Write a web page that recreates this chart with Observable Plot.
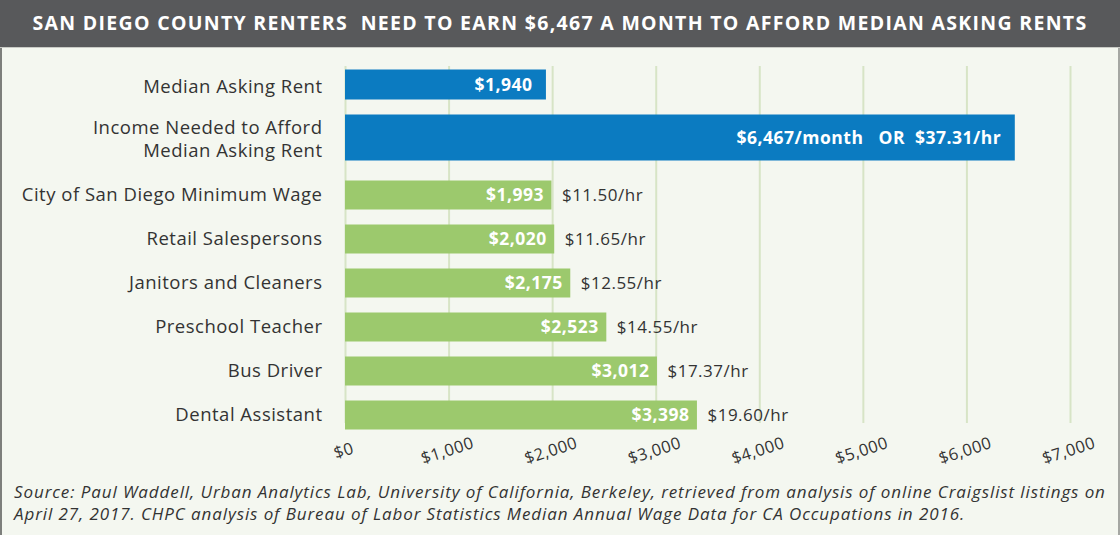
<!DOCTYPE html>
<html>
<head>
<meta charset="utf-8">
<script src="https://cdn.jsdelivr.net/npm/d3@7"></script>
<script src="https://cdn.jsdelivr.net/npm/@observablehq/plot@0.6"></script>
<style>
  html, body { margin: 0; padding: 0; }
  body { width: 1120px; height: 535px; position: relative; overflow: hidden; background: #f4f7f0; font-family: "Open Sans", sans-serif; }
  #title { position: absolute; left: 0; top: 0; width: 1120px; height: 48px; background: #58595b; color: #fff; font-weight: 700; font-size: 19.5px; letter-spacing: 1.3px; line-height: 45px; text-align: center; white-space: pre; border-bottom: 1px solid #c9cbc6; box-sizing: border-box; }
  #frame { position: absolute; left: 0; top: 48px; width: 1120px; height: 487px; box-sizing: border-box; border-left: 2px solid #7d7f7c; border-right: 2px solid #a5a7a3; pointer-events: none; }
  #top, #bottom { position: absolute; left: 0; }
  #top { top: 48px; }
  #bottom { top: 170px; }
  svg { letter-spacing: 0.5px; }
  svg text { white-space: pre; }
  #source { position: absolute; left: 14px; top: 481px; font-style: italic; font-size: 17px; letter-spacing: 0.9px; line-height: 22px; color: #333; white-space: pre; }
</style>
</head>
<body>
<div id="title"></div>
<div id="top"></div>
<div id="bottom"></div>
<div id="source"></div>
<div id="frame"></div>
<script>
const titleText = "SAN DIEGO COUNTY RENTERS  NEED TO EARN $6,467 A MONTH TO AFFORD MEDIAN ASKING RENTS";
const sourceLines = [
  "Source: Paul Waddell, Urban Analytics Lab, University of California, Berkeley, retrieved from analysis of online Craigslist listings on",
  "April 27, 2017. CHPC analysis of Bureau of Labor Statistics Median Annual Wage Data for CA Occupations in 2016."
];

const categories = [
  "Median Asking Rent",
  "Income Needed to Afford\nMedian Asking Rent",
  "City of San Diego Minimum Wage",
  "Retail Salespersons",
  "Janitors and Cleaners",
  "Preschool Teacher",
  "Bus Driver",
  "Dental Assistant"
];
const monthly = [1940, 6467, 1993, 2020, 2175, 2523, 3012, 3398];
const hourly = [null, 37.31, 11.50, 11.65, 12.55, 14.55, 17.37, 19.60];
const group = ["rent", "rent", "wage", "wage", "wage", "wage", "wage", "wage"];
const xTicks = [0, 1000, 2000, 3000, 4000, 5000, 6000, 7000];

document.getElementById("title").textContent = titleText;
document.getElementById("source").textContent = sourceLines.join("\n");

const rows = categories.map((c, i) => ({cat: c, value: monthly[i], hourly: hourly[i], group: group[i]}));
const topRows = rows.filter(d => d.group === "rent");
const botRows = rows.filter(d => d.group === "wage");

const BLUE = "#0b7bc1", GREEN = "#9cc96d", GRID = "#d7e4c6", INK = "#333333";
const money = d3.format("$,");
const labelSize = 18.5, valueSize = 17.5, hourSize = 17, tickSize = 16.5;

const topPlot = Plot.plot({
  width: 1120, height: 122,
  marginTop: 9.5, marginBottom: 6.5, marginLeft: 345, marginRight: 50,
  style: {background: "transparent", fontFamily: "'Open Sans', sans-serif", fontSize: "17px"},
  x: {domain: [0, 7000], axis: null},
  y: {domain: topRows.map(d => d.cat), padding: 0, axis: null},
  marks: [
    Plot.ruleX(xTicks, {x: d => d, stroke: GRID, strokeWidth: 2, insetTop: 8.5, insetBottom: -6.5}),
    Plot.barX(topRows, {filter: d => d.cat === categories[0], x: "value", y: "cat", fill: BLUE, insetTop: 11.5, insetBottom: 11.5}),
    Plot.barX(topRows, {filter: d => d.cat === categories[1], x: "value", y: "cat", fill: BLUE, insetTop: 3.5, insetBottom: 3.5}),
    Plot.text(topRows, {x: "value", y: "cat", text: d => d.hourly == null ? money(d.value) : `${money(d.value)}/month   OR  $${d.hourly.toFixed(2)}/hr`,
      textAnchor: "end", dx: -14, fill: "white", fontWeight: "bold", fontSize: valueSize}),
    Plot.axisY({tickSize: 0, tickPadding: 23, fontSize: labelSize, lineHeight: 1.27, color: INK, label: null})
  ]
});
document.getElementById("top").appendChild(topPlot);

const botPlot = Plot.plot({
  width: 1120, height: 300,
  marginTop: 0, marginBottom: 30.6, marginLeft: 345, marginRight: 50,
  style: {background: "transparent", fontFamily: "'Open Sans', sans-serif", fontSize: "17px"},
  x: {domain: [0, 7000], axis: null},
  y: {domain: botRows.map(d => d.cat), padding: 0, axis: null},
  marks: [
    Plot.ruleX(xTicks, {x: d => d, stroke: GRID, strokeWidth: 2, insetBottom: 16.4}),
    Plot.barX(botRows, {x: "value", y: "cat", fill: GREEN, insetTop: 7.5, insetBottom: 7.5}),
    Plot.text(botRows, {x: "value", y: "cat", text: d => money(d.value), textAnchor: "end", dx: -8, fill: "white", fontWeight: "bold", fontSize: valueSize}),
    Plot.text(botRows, {x: "value", y: "cat", text: d => `$${d.hourly.toFixed(2)}/hr`, textAnchor: "start", dx: 10, fill: INK, fontSize: hourSize}),
    Plot.axisY({tickSize: 0, tickPadding: 23, fontSize: labelSize, color: INK, label: null}),
    Plot.text(xTicks, {x: d => d, frameAnchor: "bottom", dy: 16, rotate: -18, text: d => money(d), fill: INK, fontSize: tickSize})
  ]
});
document.getElementById("bottom").appendChild(botPlot);
</script>
</body>
</html>
